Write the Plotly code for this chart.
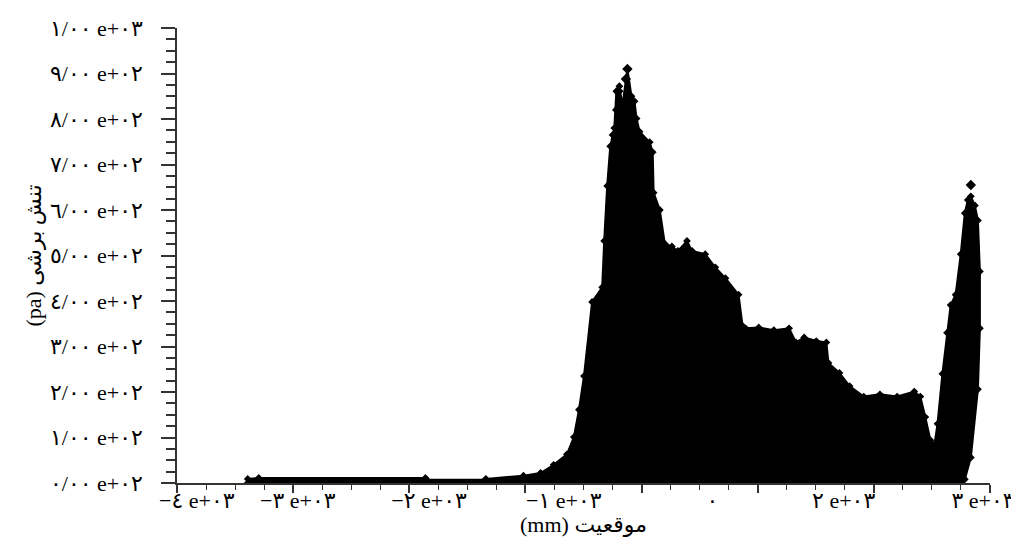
import plotly.graph_objects as go

# Upper envelope of the shear-stress point cloud (position mm, stress pa)
pos_mm = [-3391, -3391, -3296, -1861, -1850, -1348, -1340, -1017, -870, -757, -643, -583,
          -539, -496, -426, -339, -322, -296, -270, -250, -235, -217, -191, -165, -122,
          -87, -61, -43, -17, 70, 96, 104, 157, 200, 261, 313, 391, 435, 548, 635,
          722, 835, 870, 896, 1009, 1139, 1270, 1330, 1400, 1504, 1591, 1609, 1704,
          1791, 1913, 2052, 2200, 2348, 2400, 2443, 2487, 2522, 2548, 2590, 2630, 2661,
          2704, 2748, 2783, 2809, 2835, 2870, 2896, 2913, 2913, 2896, 2835, 2783]
stress_pa = [0, 9, 11, 11, 7, 7, 9, 16, 22, 40, 63, 101,
             161, 235, 398, 430, 532, 653, 740, 765, 780, 861, 872, 830, 910,
             850, 839, 801, 772, 749, 727, 638, 600, 526, 520, 510, 532, 510, 503, 474,
             450, 414, 345, 340, 342, 336, 340, 309, 320, 312, 309, 264, 242,
             213, 190, 195, 190, 201, 190, 145, 94, 85, 130, 240, 330, 391,
             414, 503, 593, 622, 630, 610, 577, 465, 340, 206, 56, 8]

# Isolated outlying points above the cloud
spike_x = [-122, -135, -200, -210, 2835]
spike_y = [910, 888, 861, 820, 655]

# Axis ticks and labels
y_ticks = [0, 100, 200, 300, 400, 500, 600, 700, 800, 900, 1000]
y_labels = ["٠/٠٠ e+٠٢", "١/٠٠ e+٠٢", "٢/٠٠ e+٠٢", "٣/٠٠ e+٠٢", "٤/٠٠ e+٠٢",
            "٥/٠٠ e+٠٢", "٦/٠٠ e+٠٢", "٧/٠٠ e+٠٢", "٨/٠٠ e+٠٢", "٩/٠٠ e+٠٢",
            "١/٠٠ e+٠٣"]
x_ticks = [-4000, -3000, -2000, -1000, 0, 1000, 2000, 3000]
x_label_pos = [-3830, -2960, -1830, -670, 610, 1740, 2940]
x_labels = ["−٤ e+٠٣", "−٣ e+٠٣", "−٢ e+٠٣", "−١ e+٠٣", "٠", "٢ e+٠٣", "٣ e+٠٣"]

FONT = "Liberation Serif, DejaVu Sans, serif"
FS = 22

fig = go.Figure()
fig.add_trace(go.Scatter(
    x=pos_mm, y=stress_pa, mode="lines+markers", fill="tozeroy",
    fillcolor="black", line=dict(color="black", width=2),
    marker=dict(symbol="diamond", size=6, color="black"),
    hoverinfo="skip", showlegend=False))
fig.add_trace(go.Scatter(
    x=spike_x, y=spike_y, mode="markers",
    marker=dict(symbol="diamond", size=8, color="black"),
    hoverinfo="skip", showlegend=False, cliponaxis=False))
# invisible trace to carry the label axis
fig.add_trace(go.Scatter(x=[-4000, 3000], y=[None, None], xaxis="x2",
                         mode="lines", hoverinfo="skip", showlegend=False))

# page body has an 8px margin, so the figure is 8px smaller and the margins are shifted
fig.update_layout(
    width=1011, height=542,
    margin=dict(l=169, r=29, t=20, b=67),
    paper_bgcolor="white", plot_bgcolor="white",
    font=dict(family=FONT, size=FS, color="black"),
    xaxis=dict(range=[-4000, 3000], tickvals=x_ticks, showticklabels=False,
               ticks="outside", ticklen=8, tickwidth=1.5, tickcolor="#333",
               showline=True, linecolor="#333", linewidth=1.5,
               showgrid=False, zeroline=False, automargin=False,
               minor=dict(dtick=250, tick0=0, ticks="outside", ticklen=5,
                          tickwidth=1, tickcolor="#333", showgrid=False),
               title=dict(text="(mm) موقعیت", standoff=25,
                          font=dict(family=FONT, size=FS))),
    xaxis2=dict(range=[-4000, 3000], overlaying="x", anchor="y", side="bottom",
                tickvals=x_label_pos, ticktext=x_labels, ticks="", ticklen=0,
                showline=False, showgrid=False, zeroline=False, automargin=False,
                ticklabelstandoff=2, ticklabeloverflow="allow",
                tickfont=dict(family=FONT, size=FS)),
    yaxis=dict(range=[0, 1000], tickvals=y_ticks, ticktext=y_labels,
               ticks="outside", ticklen=14, tickwidth=1.5, tickcolor="#333",
               showline=True, linecolor="#333", linewidth=1.5,
               showgrid=False, zeroline=False, ticklabelstandoff=14,
               automargin=False,
               minor=dict(dtick=25, tick0=0, ticks="outside", ticklen=9,
                          tickwidth=1.5, tickcolor="#333", showgrid=False),
               tickfont=dict(family=FONT, size=FS),
               title=dict(text="(pa) تنش برشی", standoff=2,
                          font=dict(family=FONT, size=FS))),
)

fig.write_html("out.html")
